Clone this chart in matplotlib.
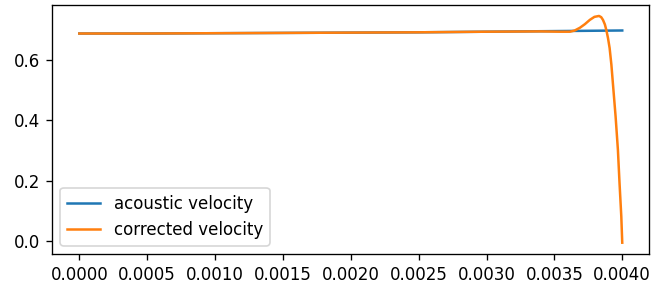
import numpy as np
import matplotlib
matplotlib.use('Agg')
import matplotlib.pyplot as plt

# velocidade acustica (quase constante)
t_acoustic = [0.0, 0.0005, 0.0010, 0.0015, 0.0020, 0.0025, 0.0030, 0.0035, 0.0040]
v_acoustic = [0.687, 0.687, 0.688, 0.689, 0.690, 0.691, 0.693, 0.695, 0.697]

# velocidade corrigida (segue a acustica, pico e queda no final)
t_corrected = [0.0, 0.0005, 0.0010, 0.0015, 0.0020, 0.0025, 0.0030, 0.0034,
               0.003542, 0.003615, 0.003650, 0.003688, 0.003725, 0.003761,
               0.003795, 0.003829, 0.003845, 0.003858, 0.003872, 0.003883,
               0.003895, 0.003907, 0.003920, 0.003931, 0.003951, 0.003968,
               0.003980, 0.003993, 0.004000]
v_corrected = [0.687, 0.687, 0.688, 0.689, 0.690, 0.691, 0.693, 0.694,
               0.693, 0.693, 0.697, 0.706, 0.718, 0.732,
               0.742, 0.745, 0.741, 0.732, 0.717, 0.698,
               0.672, 0.639, 0.584, 0.523, 0.413, 0.303,
               0.193, 0.083, -0.004]

fig, ax = plt.subplots(figsize=(652 / 120, 289 / 120), dpi=120)
ax.plot(t_acoustic, v_acoustic, label='acoustic velocity')
ax.plot(t_corrected, v_corrected, label='corrected velocity')
ax.legend(loc='lower left')
ax.set_yticks([0.0, 0.2, 0.4, 0.6])
fig.subplots_adjust(left=0.08, right=0.996, top=0.984, bottom=0.121)
fig.savefig('out.png', dpi=120)
